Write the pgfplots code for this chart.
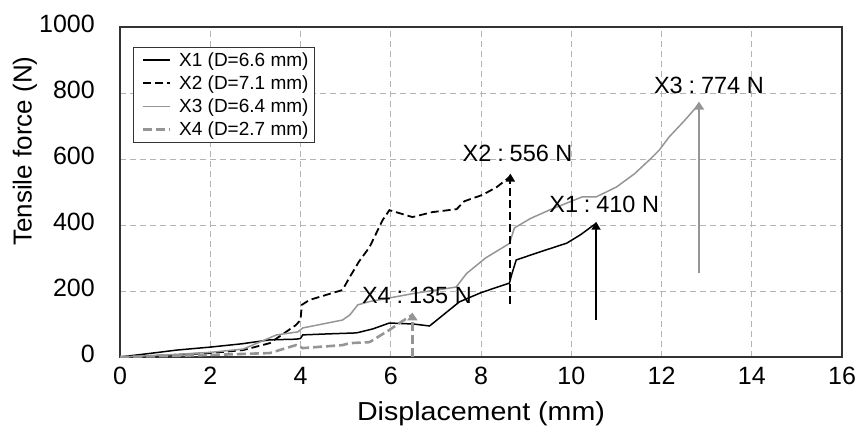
\documentclass[border=0pt]{standalone}
\usepackage{fontspec}
\setmainfont{Liberation Sans}
\newfontfamily\widesans{Liberation Sans}[FakeStretch=1.1]
\usepackage{pgfplots}
\pgfplotsset{compat=1.18}
\usetikzlibrary{arrows.meta}
\definecolor{GridGray}{HTML}{B4B4B4}
\definecolor{LineGray}{HTML}{959595}
\definecolor{FrameGray}{HTML}{333333}

\begin{document}
\begin{tikzpicture}
\begin{axis}[
  at={(0,0)}, anchor=south west,
  scale only axis, width=722pt, height=330pt,
  xmin=0, xmax=16, ymin=0, ymax=1000,
  xtick={0,2,...,16}, ytick={0,200,...,1000},
  /pgf/number format/assume math mode=true,
  /pgf/number format/1000 sep={},
  grid=major,
  grid style={color=GridGray, line width=0.9pt, dash pattern=on 6pt off 4pt},
  axis line style={color=FrameGray, line width=1.2pt},
  major tick length=0pt,
  tick label style={font=\fontsize{25}{27}\selectfont},
  xticklabel style={inner sep=0pt, yshift=-10pt},
  yticklabel style={inner sep=0pt, xshift=-25pt, yshift=3pt},
  xlabel={Displacement (mm)},
  ylabel={Tensile force (N)},
  xlabel style={font=\widesans\fontsize{26}{30}\selectfont,
    at={(axis description cs:0.5,-0.191)}, anchor=base},
  ylabel style={font=\fontsize{26}{30}\selectfont,
    at={(axis description cs:-0.1316,0.624)}, anchor=center},
  legend style={at={(axis description cs:0.018,0.939)}, anchor=north west,
    draw=FrameGray, fill=white,
    font=\fontsize{19}{21}\selectfont, row sep=4pt,
    inner xsep=4pt, inner ysep=3pt},
  legend cell align=left,
  legend image code/.code={\draw[#1] (6pt,0pt) -- (33pt,0pt);
    \path[draw=none, fill=none] (0pt,0pt) (40pt,0pt);},
]
% X1 (D=6.6 mm)
\addplot[black, line width=1.5pt] coordinates {
  (0,0) (0.73,12) (1.26,21) (2,30) (2.7,40) (3.32,52) (3.9,54) (4.0,56) (4.05,67)
  (4.6,70) (5.24,73) (5.6,85) (5.97,103) (6.5,100) (6.86,94) (7.05,115)
  (7.52,167) (8.0,195) (8.63,224) (8.68,250) (8.78,294) (9.23,315) (9.9,345)
  (10.2,370) (10.55,405)};
\addlegendentry{X1 (D=6.6 mm)}
% X2 (D=7.1 mm)
\addplot[black, line width=1.8pt, dash pattern=on 8pt off 4pt] coordinates {
  (0,0) (1,5) (2,12) (2.73,21) (3.32,42) (3.9,97) (4.0,112) (4.03,158)
  (4.2,173) (4.93,203) (5.09,242) (5.3,290) (5.53,333) (5.82,415) (5.97,445)
  (6.19,436) (6.48,424) (6.92,439) (7.46,448) (7.63,472) (8.03,491)
  (8.35,515) (8.63,545)};
\addlegendentry{X2 (D=7.1 mm)}
% X3 (D=6.4 mm)
\addplot[LineGray, line width=1.5pt] coordinates {
  (0,0) (1,6) (2,14) (2.73,24) (3.47,67) (3.94,76) (4.05,88) (4.93,112)
  (5.09,127) (5.27,158) (5.53,168) (6.57,194) (7.45,212) (7.68,253)
  (8.1,300) (8.63,344) (8.74,391) (9.1,420) (9.51,445) (10.24,485)
  (10.55,485) (11.0,515) (11.4,555) (11.73,597) (11.95,627) (12.17,667)
  (12.5,715) (12.83,766)};
\addlegendentry{X3 (D=6.4 mm)}
% X4 (D=2.7 mm)
\addplot[LineGray, line width=2.6pt, dash pattern=on 9pt off 4pt] coordinates {
  (0,0) (1,3) (2,6) (3.32,12) (3.9,36) (4.05,27) (4.93,36) (5.09,42)
  (5.53,45) (5.97,82) (6.25,108) (6.48,128)};
\addlegendentry{X4 (D=2.7 mm)}
% annotation arrows
\addplot[forget plot, black, line width=1.5pt,
  -{Triangle[width=9pt,length=8pt]}] coordinates {(10.55,112) (10.55,410)};
\addplot[forget plot, black, line width=1.8pt, dash pattern=on 8pt off 4pt,
  -{Triangle[width=9pt,length=8pt]}] coordinates {(8.65,160) (8.65,556)};
\addplot[forget plot, LineGray, line width=2.6pt,
  -{Triangle[width=10pt,length=8pt]}] coordinates {(12.83,254) (12.83,774)};
\addplot[forget plot, LineGray, line width=2.6pt, dash pattern=on 9pt off 4pt,
  -{Triangle[width=10pt,length=8pt]}] coordinates {(6.48,0) (6.48,135)};
% labels
\tikzset{annot/.style={font=\fontsize{23.5}{26}\selectfont, anchor=center}}
\node[annot] at (axis cs:8.81,618) {X2\hspace{0.25em}:\hspace{0.25em}556 N};
\node[annot] at (axis cs:10.73,461) {X1\hspace{0.25em}:\hspace{0.25em}410 N};
\node[annot] at (axis cs:13.05,824) {X3\hspace{0.25em}:\hspace{0.25em}774 N};
\node[annot] at (axis cs:6.58,188) {X4\hspace{0.25em}:\hspace{0.25em}135 N};
\end{axis}
\pgfresetboundingbox
\useasboundingbox (-120pt,-74pt) rectangle (744pt,357pt);
\end{tikzpicture}
\end{document}
